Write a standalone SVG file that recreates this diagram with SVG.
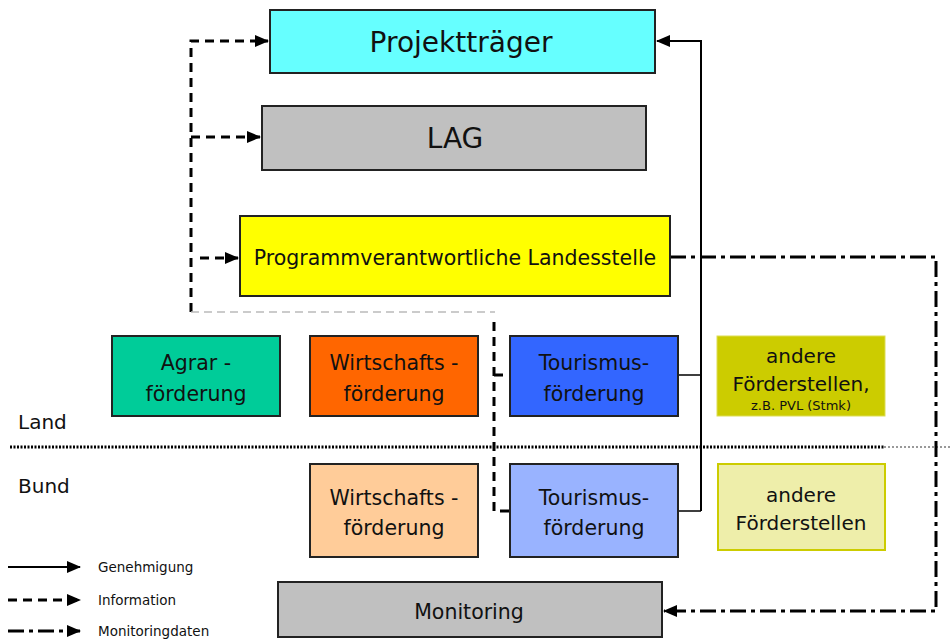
<svg xmlns="http://www.w3.org/2000/svg" width="950" height="641" viewBox="0 0 950 641">
<defs>
<marker id="arr" markerUnits="userSpaceOnUse" markerWidth="14" markerHeight="12" refX="13" refY="6" orient="auto"><path d="M0,0 L14,6 L0,12 Z" fill="#000"/></marker>
<style>
.box{stroke:#222;stroke-width:2}
.t{font-family:"DejaVu Sans","Liberation Sans",sans-serif;fill:#111;text-anchor:middle}
.lg{font-family:"DejaVu Sans","Liberation Sans",sans-serif;fill:#111;font-size:13.5px}
.sol{fill:none;stroke:#000;stroke-width:2}
.dash{fill:none;stroke:#000;stroke-width:3;stroke-dasharray:9,6}
.dd{fill:none;stroke:#000;stroke-width:3;stroke-dasharray:16,5,4,5}
</style>
</defs>
<rect width="950" height="641" fill="#fff"/>
<g id="separator">
<line x1="10" y1="447" x2="884" y2="447" stroke="#000" stroke-width="3" stroke-dasharray="2,1.5"/>
<line x1="884" y1="447" x2="950" y2="447" stroke="#999" stroke-width="2" stroke-dasharray="2,2"/>
<text class="lg" x="18" y="429" style="font-size:20px">Land</text>
<text class="lg" x="18" y="493" style="font-size:20px">Bund</text>
</g>
<g id="connectors">
<path class="dash" d="M191,312 V41 H268" marker-end="url(#arr)"/>
<path class="dash" d="M191,137 H260" marker-end="url(#arr)"/>
<path class="dash" d="M200,258 H238" marker-end="url(#arr)"/>
<path d="M191,312 H495" fill="none" stroke="#bbb" stroke-width="1.5" stroke-dasharray="8,5"/>
<path class="dash" d="M494,322 V511 H510"/>
<path class="dash" d="M494,375 H510"/>
<path class="sol" d="M701,511 V41 H657" marker-end="url(#arr)"/>
<path d="M678,375 H701 M678,511 H701" stroke="#000" stroke-width="1.5" fill="none"/>
<path class="dd" d="M670,257 H936 V611 H664" marker-end="url(#arr)"/>
</g>
<g id="projekttraeger"><rect class="box" x="270" y="10" width="385" height="63" fill="#66FFFF"/><text class="t" x="461" y="52" font-size="28">Projektträger</text></g>
<g id="lag"><rect class="box" x="262" y="106" width="384" height="64" fill="#C0C0C0"/><text class="t" x="455" y="148" font-size="28">LAG</text></g>
<g id="landesstelle"><rect class="box" x="240" y="216" width="430" height="80" fill="#FFFF00"/><text class="t" x="455" y="265" font-size="20.5">Programmverantwortliche Landesstelle</text></g>
<g id="agrar"><rect class="box" x="112" y="336" width="168" height="80" fill="#00CC99"/><text class="t" x="196" y="370" font-size="20.5">Agrar -</text><text class="t" x="196" y="401" font-size="20.5">förderung</text></g>
<g id="wirtschaft-land"><rect class="box" x="310" y="336" width="168" height="80" fill="#FF6600"/><text class="t" x="394" y="370" font-size="20.5">Wirtschafts -</text><text class="t" x="394" y="401" font-size="20.5">förderung</text></g>
<g id="tourismus-land"><rect class="box" x="510" y="336" width="168" height="80" fill="#3366FF"/><text class="t" x="594" y="370" font-size="20.5">Tourismus-</text><text class="t" x="594" y="401" font-size="20.5">förderung</text></g>
<g id="andere-land"><rect x="717" y="336" width="168" height="80" fill="#CCCC00" stroke="#dddd55" stroke-width="1"/><text class="t" x="801" y="363" font-size="20">andere</text><text class="t" x="801" y="391" font-size="20">Förderstellen,</text><text class="t" x="801" y="410" font-size="13">z.B. PVL (Stmk)</text></g>
<g id="wirtschaft-bund"><rect class="box" x="310" y="464" width="168" height="93" fill="#FFCC99"/><text class="t" x="394" y="505" font-size="20.5">Wirtschafts -</text><text class="t" x="394" y="535" font-size="20.5">förderung</text></g>
<g id="tourismus-bund"><rect class="box" x="510" y="464" width="168" height="93" fill="#99B3FF"/><text class="t" x="594" y="505" font-size="20.5">Tourismus-</text><text class="t" x="594" y="535" font-size="20.5">förderung</text></g>
<g id="andere-bund"><rect x="718" y="464" width="167" height="86" fill="#EEEEAA" stroke="#CCCC00" stroke-width="2"/><text class="t" x="801" y="502" font-size="20">andere</text><text class="t" x="801" y="530" font-size="20">Förderstellen</text></g>
<g id="monitoring"><rect class="box" x="278" y="582" width="384" height="55" fill="#C0C0C0"/><text class="t" x="469" y="619" font-size="20.5">Monitoring</text></g>
<g id="legend">
<path class="sol" d="M8,567 H80" marker-end="url(#arr)"/>
<path class="dash" d="M8,600 H80" marker-end="url(#arr)"/>
<path class="dd" d="M8,631 H80" marker-end="url(#arr)"/>
<text class="lg" x="98" y="572">Genehmigung</text>
<text class="lg" x="98" y="605">Information</text>
<text class="lg" x="98" y="636">Monitoringdaten</text>
</g>
</svg>
